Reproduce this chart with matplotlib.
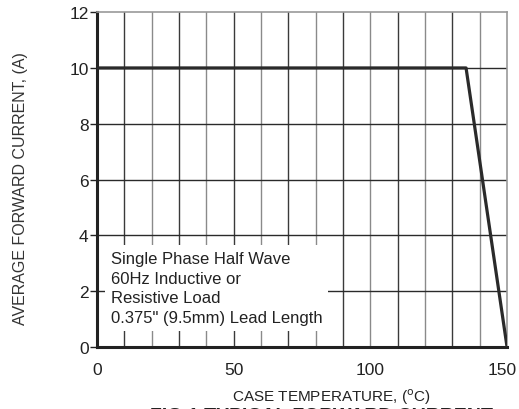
import numpy as np
import matplotlib
matplotlib.use("Agg")
import matplotlib.pyplot as plt
import matplotlib.transforms as mtransforms
from matplotlib import font_manager

names = {f.name for f in font_manager.fontManager.ttflist}
narrow = 'Liberation Sans Narrow' if 'Liberation Sans Narrow' in names else 'Liberation Sans'
plt.rcParams['font.family'] = [narrow, 'DejaVu Sans']

# derating curve
temp = [0, 135, 150]
current = [10, 10, 0]

x_ticks = [0, 50, 100, 150]
y_ticks = [0, 2, 4, 6, 8, 10, 12]
grid_x = np.arange(10, 150, 10)

note = "Single Phase Half Wave\n60Hz Inductive or\nResistive Load\n0.375\" (9.5mm) Lead Length"

fig = plt.figure(figsize=(5.19, 4.10), dpi=100)
ax = fig.add_axes([0.187, 0.151, 0.790, 0.817])

for i, gx in enumerate(grid_x):
    ax.axvline(gx, color='#3a3a3a' if i % 2 == 0 else '#8a8a8a', lw=1.0, zorder=1)
for gy in y_ticks[1:-1]:
    ax.axhline(gy, color='#2a2a2a', lw=1.0, zorder=1)

ax.plot(temp, current, color='#2a2a2a', lw=2.3, zorder=4, solid_capstyle='butt')

ax.set_xlim(0, 150)
ax.set_ylim(0, 12)
ax.set_xticks(x_ticks)
ax.set_yticks(y_ticks)
ax.tick_params(axis='both', labelsize=12.5, colors='#222222', length=5, width=1)
ax.tick_params(axis='x', length=0, pad=11)
ax.tick_params(axis='y', pad=1)

# keep the last x label inside the canvas
last = ax.get_xticklabels()[-1]
last.set_transform(last.get_transform() + mtransforms.ScaledTranslation(-5 / 100, 0, fig.dpi_scale_trans))

for s in ['left', 'bottom']:
    ax.spines[s].set_color('#222222')
    ax.spines[s].set_linewidth(2.2)
for s in ['top', 'right']:
    ax.spines[s].set_color('#999999')
    ax.spines[s].set_linewidth(1.2)

ax.text(5, 3.45, note, fontsize=12, color='#222222', va='top', ha='left',
        family=['Liberation Sans', 'DejaVu Sans'], linespacing=1.4, zorder=3,
        bbox=dict(facecolor='white', edgecolor='none', pad=4))

fig.text(0.04, 0.54, "AVERAGE FORWARD CURRENT, (A)", rotation=90, ha='center', va='center',
         fontsize=11.5, color='#333333', family=['Liberation Sans', 'DejaVu Sans'])
fig.text(0.638, 0.032, r"CASE TEMPERATURE, ($^{\rm o}$C)", ha='center', va='center',
         fontsize=11, color='#222222', family=['Liberation Sans', 'DejaVu Sans'])
fig.text(0.62, -0.015, "FIG.1 TYPICAL FORWARD CURRENT", ha='center', va='center',
         fontsize=14, fontweight='bold', color='#222222', family=['Liberation Sans', 'DejaVu Sans'])

fig.savefig("out.png", dpi=100)
